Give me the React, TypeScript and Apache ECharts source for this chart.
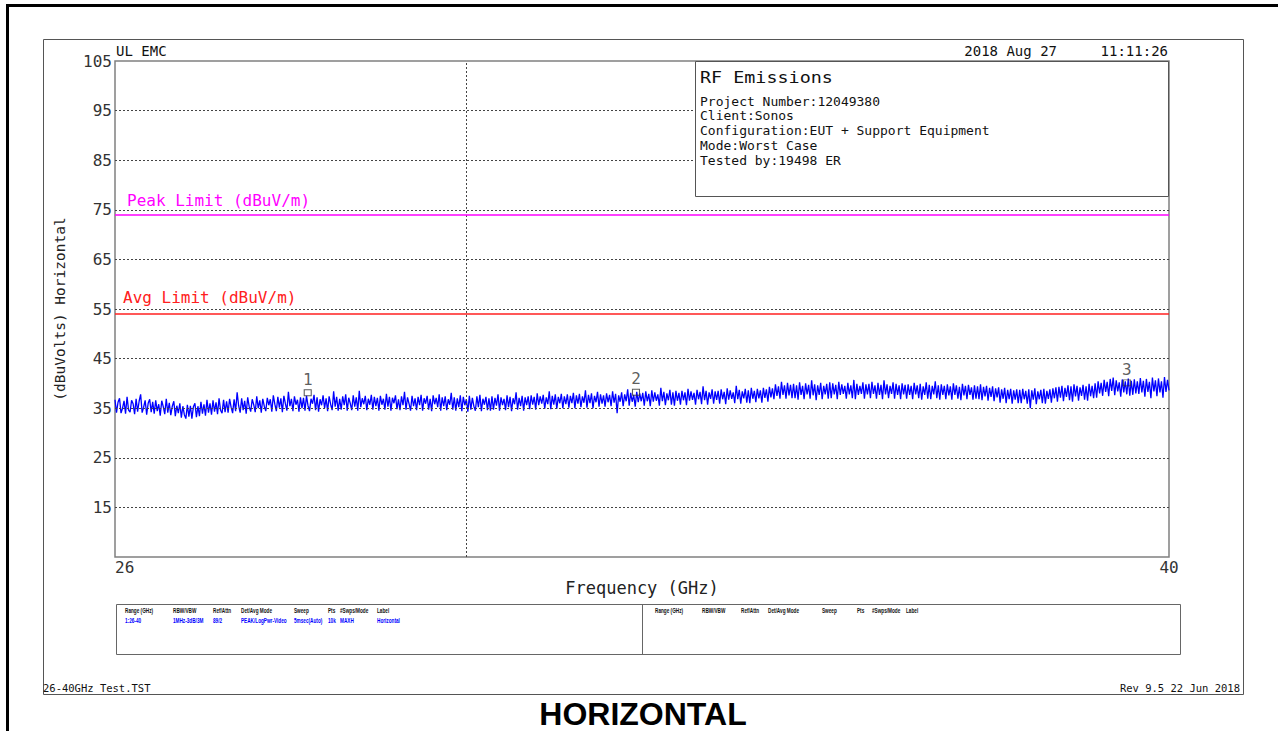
import React, { useEffect, useRef } from "react";
import * as echarts from "echarts";

// ---- data ----
const startGHz = 26;
const stopGHz = 40;
const xTickLabels = [26, 40];
const yTickLabels = [15, 25, 35, 45, 55, 65, 75, 85, 95, 105];
const gridLevels = [15, 25, 35, 45, 55, 65, 75, 85, 95];
const dividerGHz = [30.67];
const peakLimit = 74;
const avgLimit = 54;
const markerNames = ["1", "2", "3"];
const markerGHz = [28.56, 32.92, 39.44];
const markerLevel = [38.1, 38.2, 40.1];

// measured trace (dBuV), evenly spaced sweep points from 26 to 40 GHz (one row = 0.5 GHz)
const trace = [
  36.7, 34.1, 36.2, 37.0, 34.0, 35.0, 36.5, 33.9, 37.3, 34.6, 34.2, 36.6, 35.9, 33.8, 36.9, 34.3, 36.4, 37.8, 34.1, 35.2, 36.6, 33.7, 36.0, 36.8, 34.2,
  36.3, 33.9, 36.6, 34.4, 35.8, 33.5, 36.5, 35.3, 33.8, 36.9, 34.1, 36.1, 33.6, 35.4, 36.4, 33.4, 35.5, 34.0, 36.0, 33.1, 35.4, 33.7, 32.9, 35.7, 33.3,
  35.5, 32.9, 35.3, 36.0, 33.2, 35.4, 33.4, 36.3, 33.9, 35.8, 33.5, 36.7, 34.1, 36.0, 33.7, 36.6, 34.3, 36.2, 33.8, 37.0, 34.6, 34.0, 36.7, 34.2, 36.4,
  34.1, 36.9, 35.2, 34.0, 36.8, 34.4, 38.2, 35.5, 34.1, 37.0, 34.6, 36.5, 33.9, 37.2, 35.3, 34.3, 36.8, 35.7, 34.2, 37.4, 35.0, 36.6, 34.1, 36.9, 35.4,
  34.4, 37.1, 35.6, 36.8, 34.3, 37.6, 35.8, 34.4, 37.3, 35.1, 37.0, 34.2, 37.5, 35.9, 34.5, 38.3, 35.4, 36.9, 34.4, 37.4, 35.7, 36.7, 34.3, 37.2, 35.0,
  37.1, 34.5, 37.5, 35.5, 34.4, 36.9, 35.9, 37.7, 34.6, 37.2, 34.3, 36.8, 35.6, 37.6, 35.0, 37.0, 34.4, 37.4, 35.8, 34.6, 38.4, 35.3, 37.3, 34.5, 36.9,
  34.7, 37.4, 35.6, 37.8, 34.5, 37.1, 36.0, 34.6, 37.6, 35.3, 37.2, 34.5, 38.5, 35.2, 37.0, 35.8, 37.5, 34.6, 36.9, 35.7, 37.7, 34.7, 37.3, 35.4, 37.1,
  34.5, 37.5, 35.7, 36.9, 34.7, 37.9, 35.3, 37.3, 34.5, 37.1, 36.0, 37.6, 34.8, 36.8, 34.6, 37.4, 35.6, 38.3, 34.7, 37.2, 35.9, 34.5, 37.5, 35.4, 37.0,
  34.6, 37.3, 35.6, 37.7, 34.5, 37.0, 35.9, 37.5, 34.7, 36.9, 34.4, 37.6, 35.8, 37.1, 35.2, 37.8, 34.5, 37.2, 35.4, 37.4, 34.6, 36.8, 35.7, 38.1, 34.7,
  37.2, 34.5, 37.0, 35.2, 37.6, 34.4, 37.3, 35.6, 36.8, 34.3, 37.5, 34.7, 37.1, 35.4, 34.5, 37.4, 35.2, 37.7, 34.4, 36.9, 35.7, 37.3, 34.6, 37.0, 34.5,
  37.4, 34.7, 37.1, 35.5, 37.8, 34.5, 37.2, 35.6, 36.9, 34.6, 37.6, 35.2, 37.3, 34.4, 37.0, 35.8, 38.2, 34.7, 37.1, 35.4, 37.5, 34.5, 37.2, 35.6, 37.4,
  34.8, 37.6, 35.7, 37.3, 34.7, 38.0, 35.6, 37.4, 35.9, 37.7, 34.9, 37.2, 35.8, 38.4, 34.8, 37.5, 35.7, 37.8, 34.9, 37.3, 36.0, 37.9, 35.0, 37.4, 35.8,
  37.8, 35.1, 37.5, 36.0, 38.1, 35.0, 37.6, 35.9, 37.9, 35.2, 37.4, 36.1, 38.6, 35.1, 37.7, 36.0, 38.0, 35.0, 37.5, 36.2, 38.3, 35.3, 37.8, 35.9, 37.6,
  35.3, 38.0, 36.2, 37.7, 35.4, 38.4, 36.1, 37.9, 34.0, 37.6, 36.3, 38.2, 35.4, 37.8, 36.4, 38.8, 35.5, 38.1, 36.3, 37.7, 35.3, 38.3, 36.2, 38.0, 36.4,
  38.1, 35.5, 38.4, 36.4, 37.9, 35.4, 38.6, 36.3, 38.2, 36.5, 37.8, 35.5, 39.1, 36.4, 38.3, 35.6, 38.0, 36.6, 38.7, 35.7, 38.2, 35.5, 38.5, 36.5, 38.1,
  35.7, 38.5, 36.6, 38.2, 35.6, 38.9, 36.5, 38.4, 36.7, 38.1, 35.7, 38.7, 36.8, 38.3, 35.8, 39.4, 36.6, 38.5, 35.7, 38.2, 36.9, 38.8, 35.9, 38.4, 36.7,
  38.5, 35.9, 38.8, 36.8, 38.3, 35.8, 39.0, 36.7, 38.6, 36.9, 38.2, 36.0, 39.5, 36.8, 38.7, 35.9, 38.4, 37.0, 38.9, 36.1, 38.6, 36.0, 39.1, 36.9, 38.5,
  36.2, 38.9, 37.0, 38.6, 36.1, 39.1, 37.1, 38.8, 36.3, 39.3, 37.2, 39.0, 36.8, 39.8, 37.5, 39.4, 36.9, 40.3, 37.7, 39.6, 36.9, 40.1, 37.6, 39.7, 37.0,
  39.9, 37.0, 39.6, 36.7, 40.2, 37.7, 39.5, 36.8, 40.0, 37.8, 39.7, 36.9, 40.6, 37.6, 39.8, 36.6, 39.6, 37.7, 40.1, 36.8, 39.5, 37.8, 39.9, 36.9, 40.2,
  37.0, 40.0, 37.8, 39.7, 36.8, 40.3, 37.7, 39.8, 37.9, 39.5, 36.9, 40.1, 37.8, 39.6, 37.0, 40.7, 36.8, 39.9, 37.7, 39.5, 37.9, 40.2, 36.9, 39.8, 37.8,
  39.9, 37.0, 40.3, 37.9, 39.6, 36.9, 40.1, 37.7, 39.7, 36.8, 40.6, 37.8, 39.8, 37.0, 39.5, 37.9, 40.2, 36.9, 39.9, 37.7, 39.6, 36.8, 40.0, 37.8, 39.7,
  36.9, 39.8, 37.7, 39.5, 36.8, 40.1, 37.8, 39.6, 37.0, 39.9, 36.7, 39.4, 37.7, 40.2, 36.9, 39.7, 36.8, 39.5, 37.8, 40.4, 37.0, 39.6, 36.7, 39.8, 37.7,
  39.5, 36.8, 39.8, 37.6, 39.4, 36.7, 40.0, 37.7, 39.6, 36.9, 39.3, 36.6, 39.9, 37.6, 39.5, 36.8, 39.7, 37.7, 39.2, 36.7, 39.6, 36.9, 39.4, 36.8, 39.8,
  36.6, 39.3, 37.4, 39.5, 36.5, 39.1, 37.3, 39.4, 36.4, 39.0, 37.2, 39.2, 36.1, 38.8, 36.9, 39.1, 36.0, 38.7, 36.8, 38.9, 35.9, 38.6, 36.7, 38.8, 36.0,
  38.7, 36.0, 38.9, 36.8, 38.5, 35.9, 38.8, 35.0, 38.6, 36.7, 39.0, 35.8, 38.4, 36.8, 38.7, 36.0, 38.9, 35.9, 38.5, 36.9, 38.8, 36.1, 39.0, 37.0, 39.2,
  36.3, 39.3, 37.1, 39.5, 36.4, 39.1, 37.3, 39.6, 36.6, 39.4, 36.3, 39.8, 37.4, 39.5, 36.5, 39.2, 37.5, 39.7, 36.7, 39.4, 36.5, 39.9, 37.4, 39.5, 37.0,
  40.0, 37.1, 40.4, 38.0, 40.1, 37.5, 40.7, 38.3, 40.3, 37.4, 40.9, 38.5, 41.2, 37.6, 40.6, 38.4, 40.2, 37.3, 40.8, 38.2, 40.4, 37.8, 41.0, 37.5, 40.5,
  37.7, 40.8, 38.0, 40.4, 37.9, 41.1, 38.2, 40.5, 37.3, 40.9, 38.3, 40.3, 37.0, 41.2, 38.4, 40.6, 37.4, 41.0, 38.2, 40.4, 37.1, 41.3, 38.3, 40.7, 38.6,
];

const headerLeft = "UL EMC";
const headerDate = "2018 Aug 27";
const headerTime = "11:11:26";
const infoTitle = "RF Emissions";
const infoLines = [
  "Project Number:12049380",
  "Client:Sonos",
  "Configuration:EUT + Support Equipment",
  "Mode:Worst Case",
  "Tested by:19498 ER",
];
const tableHeaders = ["Range (GHz)", "RBW/VBW", "Ref/Attn", "Det/Avg Mode", "Sweep", "Pts", "#Swps/Mode", "Label"];
const tableValues = ["1:26-40", "1MHz-3dB/3M", "89/2", "PEAK/LogPwr-Video", "5msec(Auto)", "10k", "MAXH", "Horizontal"];
const footerLeft = "26-40GHz Test.TST";
const footerRight = "Rev 9.5 22 Jun 2018";
const caption = "HORIZONTAL";

// ---- layout ----
const MONO = '"DejaVu Sans Mono", "Liberation Mono", monospace';
const SANS = '"Liberation Sans", Arial, sans-serif';
const colLeftA = [125, 173, 213, 241, 294, 328, 340, 377];
const colLeftB = [655, 702, 741, 768, 822, 857, 872, 906];

function txt(text: string, x: number, y: number, font: string, fill: string, align = "left", z = 100, scaleX = 1) {
  return {
    type: "text",
    z,
    silent: true,
    x,
    y,
    scaleX,
    style: {
      text,
      x: 0,
      y: 0,
      font,
      fill,
      textAlign: align,
      align,
      textVerticalAlign: "middle",
      verticalAlign: "middle",
    },
  };
}

export default function App() {
  const ref = useRef<HTMLDivElement>(null);

  useEffect(() => {
    document.body.style.margin = "0";
    if (!ref.current) return;
    const chart = echarts.init(ref.current, undefined, { renderer: "svg" });
    const step = (stopGHz - startGHz) / (trace.length - 1);
    const traceData = trace.map((v, i) => [startGHz + i * step, v]);
    const tableFont = `bold 6.5px ${SANS}`;

    const graphics: any[] = [
      // outer frame
      { type: "line", z: 100, silent: true, shape: { x1: 7.5, y1: 4, x2: 7.5, y2: 731 }, style: { stroke: "#000", lineWidth: 3 } },
      { type: "line", z: 100, silent: true, shape: { x1: 6, y1: 5.5, x2: 1278, y2: 5.5 }, style: { stroke: "#000", lineWidth: 3 } },
      // page frame
      { type: "rect", z: 1, silent: true, shape: { x: 43.5, y: 39.5, width: 1200, height: 655 }, style: { fill: "none", stroke: "#555", lineWidth: 1 } },
      // info box
      { type: "rect", z: 100, silent: true, shape: { x: 695.5, y: 61.5, width: 473, height: 135 }, style: { fill: "#fff", stroke: "#555", lineWidth: 1 } },
      // table
      { type: "rect", z: 100, silent: true, shape: { x: 116.5, y: 604.5, width: 1064, height: 50 }, style: { fill: "none", stroke: "#666", lineWidth: 1 } },
      { type: "line", z: 100, silent: true, shape: { x1: 642.5, y1: 604, x2: 642.5, y2: 655 }, style: { stroke: "#666", lineWidth: 1 } },
      txt(headerLeft, 116, 51, `14px ${MONO}`, "#111"),
      txt(headerDate, 1057, 51, `14px ${MONO}`, "#111", "right"),
      txt(headerTime, 1168, 51, `14px ${MONO}`, "#111", "right"),
      txt(infoTitle, 700, 77, `16px ${MONO}`, "#111", "left", 101, 1.15),
      ...infoLines.map((l, i) => txt(l, 700, 101 + i * 14.8, `13px ${MONO}`, "#111", "left", 101)),
      ...tableHeaders.map((h, i) => txt(h, colLeftA[i], 611, tableFont, "#111", "left", 100, 0.72)),
      ...tableValues.map((h, i) => txt(h, colLeftA[i], 621, tableFont, "#0000ff", "left", 100, 0.72)),
      ...tableHeaders.map((h, i) => txt(h, colLeftB[i], 611, tableFont, "#111", "left", 100, 0.72)),
      txt(footerLeft, 43, 688, `10.5px ${MONO}`, "#111"),
      txt(footerRight, 1240, 688, `10.5px ${MONO}`, "#111", "right"),
      txt(caption, 643, 714, `bold 32px ${SANS}`, "#000", "center"),
    ];

    chart.setOption({
      animation: false,
      backgroundColor: "#fff",
      grid: { left: 115, top: 61, width: 1054, height: 496, show: true, borderColor: "#808080", borderWidth: 1.5, backgroundColor: "transparent" },
      xAxis: {
        type: "value",
        min: startGHz,
        max: stopGHz,
        interval: 2,
        name: "Frequency (GHz)",
        nameLocation: "middle",
        nameGap: 20,
        nameTextStyle: { fontFamily: MONO, fontSize: 17, color: "#222" },
        axisLine: { show: false },
        axisTick: { show: false },
        splitLine: { show: false },
        axisLabel: {
          margin: 2,
          fontFamily: MONO,
          fontSize: 16,
          color: "#333",
          showMinLabel: true,
          showMaxLabel: true,
          alignMinLabel: "left",
          formatter: (v: number) => (xTickLabels.includes(v) ? String(v) : ""),
        },
      },
      yAxis: {
        type: "value",
        min: 5,
        max: 105,
        interval: 5,
        name: "(dBuVolts) Horizontal",
        nameLocation: "middle",
        nameGap: 48,
        nameRotate: 90,
        nameTextStyle: { fontFamily: MONO, fontSize: 14.5, color: "#222" },
        axisLine: { show: false },
        axisTick: { show: false },
        splitLine: { show: false },
        axisLabel: {
          margin: 3,
          fontFamily: MONO,
          fontSize: 16,
          color: "#333",
          formatter: (v: number) => (yTickLabels.includes(v) ? String(v) : ""),
        },
      },
      graphic: graphics,
      series: [
        {
          name: "grid",
          type: "line",
          data: [],
          z: 1,
          silent: true,
          markLine: {
            silent: true,
            symbol: "none",
            label: { show: false },
            lineStyle: { type: [2, 2], color: "#444", width: 1 },
            data: [
              ...gridLevels.map((v) => ({ yAxis: v })),
              ...dividerGHz.map((v) => ({ xAxis: v })),
            ],
          },
        },
        {
          name: "Horizontal",
          type: "line",
          data: traceData,
          z: 3,
          showSymbol: false,
          symbol: "none",
          lineStyle: { color: "#0000ff", width: 1.3 },
          markLine: {
            silent: true,
            symbol: "none",
            data: [
              {
                yAxis: peakLimit,
                lineStyle: { color: "#ff00ff", width: 1.5, type: "solid" },
                label: {
                  show: true,
                  position: "insideStartTop",
                  formatter: "Peak Limit (dBuV/m)",
                  color: "#ff00ff",
                  fontFamily: MONO,
                  fontSize: 16,
                  distance: [12, 6],
                },
              },
              {
                yAxis: avgLimit,
                lineStyle: { color: "#ff2020", width: 1.5, type: "solid" },
                label: {
                  show: true,
                  position: "insideStartTop",
                  formatter: "Avg Limit (dBuV/m)",
                  color: "#ff2020",
                  fontFamily: MONO,
                  fontSize: 16,
                  distance: [8, 8],
                },
              },
            ],
          },
        },
        {
          name: "markers",
          type: "scatter",
          z: 5,
          data: markerGHz.map((g, i) => ({ value: [g, markerLevel[i]], name: markerNames[i] })),
          symbol: "rect",
          symbolSize: [7, 6],
          itemStyle: { color: "rgba(0,0,0,0)", borderColor: "#333", borderWidth: 1 },
          label: {
            show: true,
            position: "top",
            distance: 2,
            formatter: (p: any) => p.name,
            fontFamily: MONO,
            fontSize: 16,
            color: "#333",
          },
        },
      ],
    });
    return () => chart.dispose();
  }, []);

  return <div ref={ref} style={{ width: 1278, height: 731 }} />;
}
